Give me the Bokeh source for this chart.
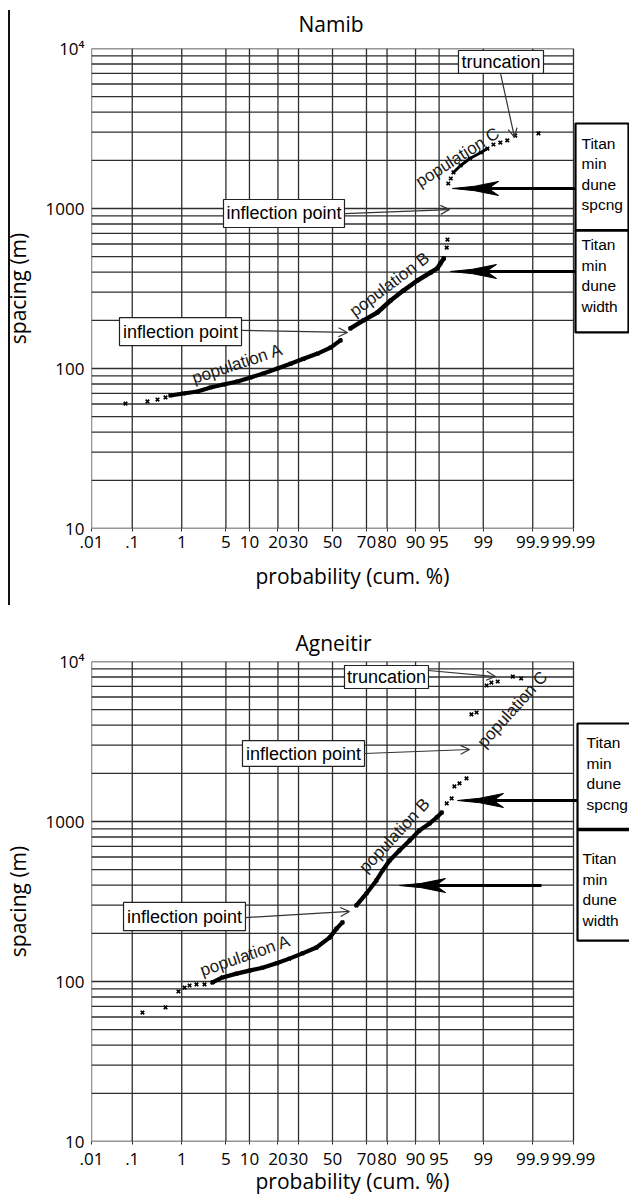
from statistics import NormalDist
from bokeh.plotting import figure
from bokeh.models import Range1d, FixedTicker, CustomJSTickFormatter, Arrow, OpenHead, Div, Title
from bokeh.layouts import column, row
from bokeh.core.properties import value
from bokeh.embed import file_html
from bokeh.resources import INLINE

# ---------------- data (cumulative probability %, spacing m) ----------------
PROB_TICKS = [0.01, 0.1, 1, 5, 10, 20, 30, 50, 70, 80, 90, 95, 99, 99.9, 99.99]
PROB_LABELS = [".01", ".1", "1", "5", "10", "20", "30", "50", "70", "80", "90", "95", "99", "99.9", "99.99"]
SPACING_TICKS = [10, 100, 1000, 10000]
SPACING_LABELS = ["10", "100", "1000", "10\u2074"]
GRID_MANTISSAS = [1, 2, 3, 4, 5, 6, 7, 8, 9]
GRID_DECADES = [10, 100, 1000]

NAMIB_A_PROB = [0.07, 0.215, 0.346, 0.498, 0.62, 1.07, 1.86, 2.99, 4.63, 7.13, 10.3, 14.3, 19.8, 25.8, 32.7, 40.9, 48.8, 54.9]
NAMIB_A_SPACING = [60.4, 62.2, 64.0, 65.9, 67.8, 69.8, 71.8, 76.1, 79.4, 83.0, 87.9, 93.1, 100, 107, 115, 124, 135, 150]
NAMIB_B_PROB = [60.9, 68.4, 75.6, 81.5, 86.3, 90.5, 93.5, 94.7, 95.2, 95.7, 96.1, 96.2]
NAMIB_B_SPACING = [178, 200, 224, 266, 307, 355, 398, 422, 453, 487, 570, 640]
NAMIB_C_PROB = [96.3, 96.6, 96.9, 97.6, 98.3, 98.9, 99.16, 99.35, 99.52, 99.65, 99.76, 99.926]
NAMIB_C_SPACING = [1433, 1540, 1679, 1858, 2054, 2239, 2371, 2512, 2585, 2661, 2858, 2943]

AGNEITIR_A_PROB = [0.168, 0.498, 0.873, 1.12, 1.37, 1.79, 2.41, 3.2, 4.48, 6.93, 10.0, 14.0, 19.4, 25.3, 32.2, 40.2, 48.2, 52.5, 56.1]
AGNEITIR_A_SPACING = [64.0, 68.8, 86.6, 91.7, 94.4, 95.8, 95.8, 98.6, 106, 112, 117, 122, 130, 139, 150, 163, 188, 214, 234]
AGNEITIR_B_PROB = [64.4, 70.0, 75.1, 78.0, 81.1, 84.9, 88.3, 91.0, 93.3, 94.6, 95.4, 96.1, 96.7, 97.0, 97.5, 98.07]
AGNEITIR_B_SPACING = [299, 355, 428, 494, 570, 659, 761, 878, 972, 1059, 1138, 1296, 1393, 1655, 1729, 1858]
AGNEITIR_C_PROB = [98.4, 98.69, 99.13, 99.29, 99.46, 99.73, 99.82]
AGNEITIR_C_SPACING = [4667, 4800, 7079, 7390, 7499, 8054, 7830]

# ---------------- layout constants ----------------
ND = NormalDist()


def probit(pct):
    return ND.inv_cdf(pct / 100.0)


FRAME_LEFT = 91      # page x of the .01 line
FRAME_RIGHT = 629    # right end of the drawing area (room for the Titan boxes)
FRAME_H = 480
PROB_PX = 482        # px from .01 to 99.99
XL = probit(PROB_TICKS[0])
XR = probit(PROB_TICKS[-1])
PXZ = PROB_PX / (XR - XL)
X_END = XL + (FRAME_RIGHT - FRAME_LEFT) / PXZ
PXD = FRAME_H / 3.0

ARIAL = value("Liberation Sans")
GRID_COLOR = "#2e2e2e"
HEAD_SHAPE = [(0, 0), (22, -2.2), (46, -7), (36, 0), (46, 7), (22, 2.2)]


def make_panel(title, title_offset, title_standoff, title_valign, border_top,
               border_bottom, tick_standoff, xlabel_standoff, pops, boxes, thin_arrows,
               titan, thick_arrows, pop_labels):
    h = border_top + FRAME_H + border_bottom
    p = figure(width=FRAME_RIGHT, height=h, output_backend="svg", toolbar_location=None,
               x_range=Range1d(XL - 1e-9, X_END), y_range=Range1d(10, 10000),
               y_axis_type="log", min_border_left=FRAME_LEFT, min_border_right=0,
               min_border_top=border_top, min_border_bottom=border_bottom)
    p.outline_line_color = None
    p.border_fill_color = None
    p.background_fill_color = "white"
    p.xgrid.visible = False
    p.ygrid.visible = False
    p.title.text = title
    p.title.align = "left"
    p.title.vertical_align = title_valign
    p.title.offset = title_offset
    p.title.standoff = title_standoff
    p.title.text_font = "Open Sans"
    p.title.text_font_size = "21px"
    p.title.text_font_style = "normal"
    p.title.text_color = "black"

    xt = [probit(t) for t in PROB_TICKS]
    p.xaxis.ticker = FixedTicker(ticks=xt)
    p.xaxis.formatter = CustomJSTickFormatter(args=dict(vals=xt, labels=PROB_LABELS), code="""
        let b = 0;
        for (let i = 0; i < vals.length; i++) {
            if (Math.abs(vals[i] - tick) < Math.abs(vals[b] - tick)) b = i;
        }
        return labels[b];
    """)
    p.yaxis.ticker = FixedTicker(ticks=SPACING_TICKS)
    p.yaxis.formatter = CustomJSTickFormatter(args=dict(vals=SPACING_TICKS, labels=SPACING_LABELS), code="""
        let b = 0;
        for (let i = 0; i < vals.length; i++) {
            if (Math.abs(Math.log10(vals[i]) - Math.log10(tick)) < Math.abs(Math.log10(vals[b]) - Math.log10(tick))) b = i;
        }
        return labels[b];
    """)
    for ax in (p.xaxis, p.yaxis):
        ax.axis_line_color = None
        ax.minor_tick_line_color = None
        ax.major_label_text_font = "Open Sans"
        ax.major_label_text_font_size = "17px"
        ax.major_label_text_color = "black"
        ax.axis_label_text_font = "Open Sans"
        ax.axis_label_text_font_size = "21px"
        ax.axis_label_text_font_style = "normal"
        ax.axis_label_text_color = "black"
    p.xaxis.major_tick_line_color = GRID_COLOR
    p.xaxis.major_tick_in = 0
    p.xaxis.major_tick_out = 3
    p.xaxis.major_label_standoff = tick_standoff
    p.yaxis.major_tick_line_color = None
    p.yaxis.major_tick_in = 0
    p.yaxis.major_tick_out = 0
    p.yaxis.major_label_standoff = 7
    p.yaxis.axis_label = "spacing (m)"
    p.yaxis.axis_label_standoff = 11
    # x-axis title, placed under the probability scale (not under the Titan boxes)
    p.add_layout(Title(text="probability (cum. %)", align="left", offset=164,
                       standoff=xlabel_standoff, text_font="Open Sans", text_font_size="21px",
                       text_font_style="normal", text_color="black"), "below")

    # probability-paper grid
    hv = [m * d for d in GRID_DECADES for m in GRID_MANTISSAS] + [SPACING_TICKS[-1]]
    p.segment(x0=[XL] * len(hv), x1=[XR] * len(hv), y0=hv, y1=hv,
              line_color=GRID_COLOR, line_width=1.3)
    p.segment(x0=xt, x1=xt, y0=[SPACING_TICKS[0]] * len(xt), y1=[SPACING_TICKS[-1]] * len(xt),
              line_color=GRID_COLOR, line_width=1.3)

    # data
    for prob, spc, sl, lw in pops:
        z = [probit(v) for v in prob]
        if sl is not None:
            p.line(x=z[sl], y=spc[sl], line_width=lw, line_color="black",
                   line_join="round", line_cap="round")
        p.scatter(x=z, y=spc, marker="x", size=5, line_width=1.7, color="black")

    # text boxes
    for text, zl, zr, vt, vb in boxes:
        p.quad(left=[zl], right=[zr], top=[vt], bottom=[vb], fill_color="white",
               line_color="#222222", line_width=1.2)
        p.text(x=[(zl + zr) / 2], y=[(vt * vb) ** 0.5], text=[text], text_font=ARIAL,
               text_font_size=value("18px"), text_align="center", text_baseline="middle",
               text_color="black")
    for (z0, v0), (z1, v1) in thin_arrows:
        p.add_layout(Arrow(end=OpenHead(size=9, line_width=1.2, line_color="#333333"),
                           x_start=z0, y_start=v0, x_end=z1, y_end=v1,
                           line_width=1.2, line_color="#333333"))

    # Titan boxes
    zl, zr, tops, bots, txs, tys, texts, divider_w = titan
    for t, b in zip(tops, bots):
        p.quad(left=[zl], right=[zr], top=[t], bottom=[b], fill_color="white",
               line_color="black", line_width=2.2)
    p.segment(x0=[zl], x1=[zr], y0=[bots[0]], y1=[bots[0]], line_color="black", line_width=divider_w)
    p.text(x=txs, y=tys, text=texts, text_font=ARIAL, text_font_size=value("15.5px"),
           text_align="left", text_baseline="middle", text_color="black", text_line_height=1.2)

    for z_start, z_tip, v in thick_arrows:
        p.line(x=[z_start, z_tip + 30 / PXZ], y=[v, v], line_width=3.2, line_color="black")
        p.patch(x=[z_tip + dx / PXZ for dx, dy in HEAD_SHAPE],
                y=[v * 10 ** (-dy / PXD) for dx, dy in HEAD_SHAPE], color="black")

    for text, z, v, ang in pop_labels:
        p.text(x=[z], y=[v], text=[text], angle=[ang * 3.14159265 / 180], text_font=ARIAL,
               text_font_size=value("17px"), text_align="center", text_baseline="middle",
               text_color="#1a1a1a")
    return p


p1 = make_panel(
    "Namib", 207, 17, "top", 48, 80, 4, 18,
    pops=[(NAMIB_A_PROB, NAMIB_A_SPACING, slice(4, None), 4.2),
          (NAMIB_B_PROB, NAMIB_B_SPACING, slice(0, 10), 4.5),
          (NAMIB_C_PROB, NAMIB_C_SPACING, slice(2, 7), 3.0)],
    boxes=[("inflection point", -1.682, 0.185, 1138, 761),
           ("truncation", 1.944, 3.256, 9716, 6982),
           ("inflection point", -3.287, -1.404, 208, 139)],
    thin_arrows=[((0.185, 930), (1.806, 985)),
                 ((2.593, 6982), (2.809, 2780)),
                 ((-1.404, 173), (0.231, 168))],
    titan=(3.75, 4.568, [3398, 729], [729, 168], [3.843, 3.843], [1644, 381],
           ["Titan\nmin\ndune\nspcng", "Titan\nmin\ndune\nwidth"], 2.2),
    thick_arrows=[(3.75, 1.852, 1334), (3.75, 1.821, 404)],
    pop_labels=[("population A", -1.466, 107, 18.3),
                ("population B", 0.88, 335, 37),
                ("population C", 1.929, 2083, 32.5)],
)

p2 = make_panel(
    "Agneitir", 204, 10, "bottom", 53, 56, 8, -6,
    pops=[(AGNEITIR_A_PROB, AGNEITIR_A_SPACING, slice(7, None), 4.2),
          (AGNEITIR_B_PROB, AGNEITIR_B_SPACING, slice(0, 11), 4.2),
          (AGNEITIR_C_PROB, AGNEITIR_C_SPACING, None, 0)],
    boxes=[("truncation", 0.185, 1.481, 9441, 6780),
           ("inflection point", -1.389, 0.494, 3206, 2208),
           ("inflection point", -3.225, -1.343, 312, 208)],
    thin_arrows=[((1.481, 8786), (2.515, 8054)),
                 ((0.494, 2661), (2.114, 2818)),
                 ((-1.343, 251), (0.262, 274))],
    titan=(3.781, 4.8, [4098, 891], [891, 180], [3.92, 3.858], [1995, 376],
           ["Titan\nmin\ndune\nspcng", "Titan\nmin\ndune\nwidth"], 3.6),
    thick_arrows=[(3.781, 1.929, 1353), (3.225, 1.034, 398)],
    pop_labels=[("population A", -1.343, 145, 19),
                ("population B", 0.957, 817, 47),
                ("population C", 2.778, 5012, 48)],
)

# thin page-edge rule at the far left of the upper panel; it takes no width of its own
# (negative right margin) and shows through the transparent border of the panel
rule = Div(text="", width=2, height=595, margin=(10, -10, 0, 8),
           styles={"background-color": "#111111"})

layout = column(row(rule, p1, spacing=0), p2, spacing=0)
open("out.html", "w").write(file_html(layout, INLINE))
